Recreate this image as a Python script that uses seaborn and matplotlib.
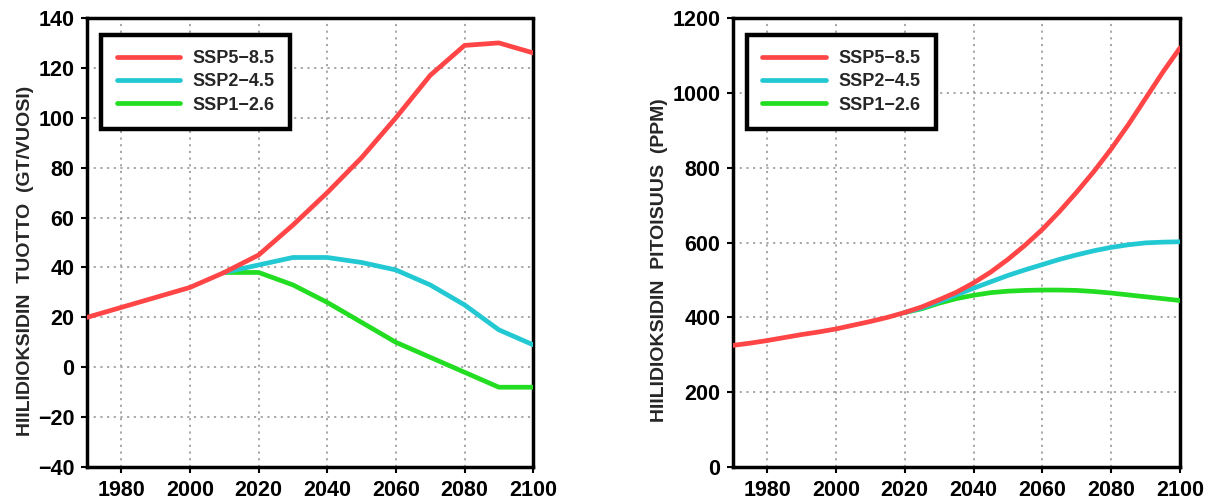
import matplotlib
matplotlib.use("Agg")
import matplotlib.pyplot as plt
import seaborn as sns
import pandas as pd
from matplotlib.lines import Line2D

# ---- data ----
years_left = [1970, 1980, 1990, 2000, 2010, 2020, 2030, 2040, 2050, 2060, 2070, 2080, 2090, 2100]
ssp585_left = [20, 24, 28, 32, 38, 45, 57, 70, 84, 100, 117, 129, 130, 126]
years_left_scen = [2010, 2020, 2030, 2040, 2050, 2060, 2070, 2080, 2090, 2100]
ssp245_left = [38, 41, 44, 44, 42, 39, 33, 25, 15, 9]
ssp126_left = [38, 38, 33, 26, 18, 10, 4, -2, -8, -8]

years_right = [1970, 1975, 1980, 1985, 1990, 1995, 2000, 2005, 2010, 2015, 2020,
               2025, 2030, 2035, 2040, 2045, 2050, 2055, 2060, 2065, 2070,
               2075, 2080, 2085, 2090, 2095, 2100]
ssp585_right = [325, 331, 338, 346, 354, 361, 369, 379, 389, 400, 413,
                428, 447, 467, 492, 521, 555, 593, 635, 683, 735,
                790, 850, 915, 985, 1055, 1120]
years_right_scen = [2020, 2025, 2030, 2035, 2040, 2045, 2050, 2055, 2060, 2065, 2070,
                    2075, 2080, 2085, 2090, 2095, 2100]
ssp245_right = [413, 425, 442, 460, 478, 495, 512, 527, 541, 555, 567,
                578, 587, 594, 599, 601, 602]
ssp126_right = [413, 423, 438, 450, 459, 466, 470, 472, 473, 473, 472,
                469, 465, 460, 455, 450, 445]

scenarios = ["SSP5\u22128.5", "SSP2\u22124.5", "SSP1\u22122.6"]
colors = {"SSP5\u22128.5": "#ff4545", "SSP2\u22124.5": "#22c8d2", "SSP1\u22122.6": "#22dd22"}

left_ylabel = "HIILIDIOKSIDIN  TUOTTO  (GT/VUOSI)"
right_ylabel = "HIILIDIOKSIDIN  PITOISUUS  (PPM)"
xticks = [1980, 2000, 2020, 2040, 2060, 2080, 2100]

sns.set_theme(style="white")
plt.rcParams['font.family'] = ['Liberation Sans', 'DejaVu Sans']
plt.rcParams['font.weight'] = 'bold'

fig = plt.figure(figsize=(12.09, 4.99), dpi=100)
ax1 = fig.add_axes([0.072, 0.064, 0.369, 0.900])
ax2 = fig.add_axes([0.606, 0.064, 0.370, 0.900])

def draw(ax, series, ylim, yticks, ylabel, label_x):
    for name, (xs, ys), z in series:
        df = pd.DataFrame({"year": xs, "val": ys})
        sns.lineplot(data=df, x="year", y="val", ax=ax, color=colors[name],
                     linewidth=3.4, zorder=z, legend=False)
    ax.set_xlim(1970, 2100)
    ax.set_ylim(*ylim)
    ax.set_xticks(xticks)
    ax.set_yticks(yticks)
    ax.set_xlabel("")
    ax.set_ylabel(ylabel, fontsize=14, fontweight='bold')
    ax.yaxis.set_label_coords(label_x, 0.46)
    ax.grid(True, color="#a0a0a0", linestyle=(0, (1.2, 2.5)), linewidth=1.3)
    ax.tick_params(axis='both', labelsize=15.5, direction='out', length=4, width=1.5,
                   colors='black', bottom=True, left=True, pad=5)
    for lab in ax.get_xticklabels() + ax.get_yticklabels():
        lab.set_fontweight('bold')
    for s in ['left', 'bottom']:
        ax.spines[s].set_color('black')
        ax.spines[s].set_linewidth(2.5)
    for s in ['top', 'right']:
        ax.spines[s].set_color('black')
        ax.spines[s].set_linewidth(2.5)
        ax.spines[s].set_linestyle((0, (1, 1)))
    handles = [Line2D([0], [0], color=colors[n], linewidth=3.4) for n in scenarios]
    leg = ax.legend(handles, scenarios, loc='upper left', bbox_to_anchor=(0.02, 0.975),
                    frameon=True, fancybox=False, framealpha=1.0, fontsize=13,
                    handlelength=3.5, borderpad=0.85, labelspacing=0.35,
                    handletextpad=0.7, borderaxespad=0.3)
    leg.get_frame().set_edgecolor('black')
    leg.get_frame().set_linewidth(3.2)
    for t in leg.get_texts():
        t.set_fontweight('bold')

draw(ax1,
     [("SSP1\u22122.6", (years_left_scen, ssp126_left), 3),
      ("SSP2\u22124.5", (years_left_scen, ssp245_left), 3),
      ("SSP5\u22128.5", (years_left, ssp585_left), 4)],
     (-40, 140), list(range(-40, 141, 20)), left_ylabel, -0.12)

draw(ax2,
     [("SSP1\u22122.6", (years_right_scen, ssp126_right), 3),
      ("SSP2\u22124.5", (years_right_scen, ssp245_right), 3),
      ("SSP5\u22128.5", (years_right, ssp585_right), 4)],
     (0, 1200), list(range(0, 1201, 200)), right_ylabel, -0.145)

fig.savefig("out.png", dpi=100)
